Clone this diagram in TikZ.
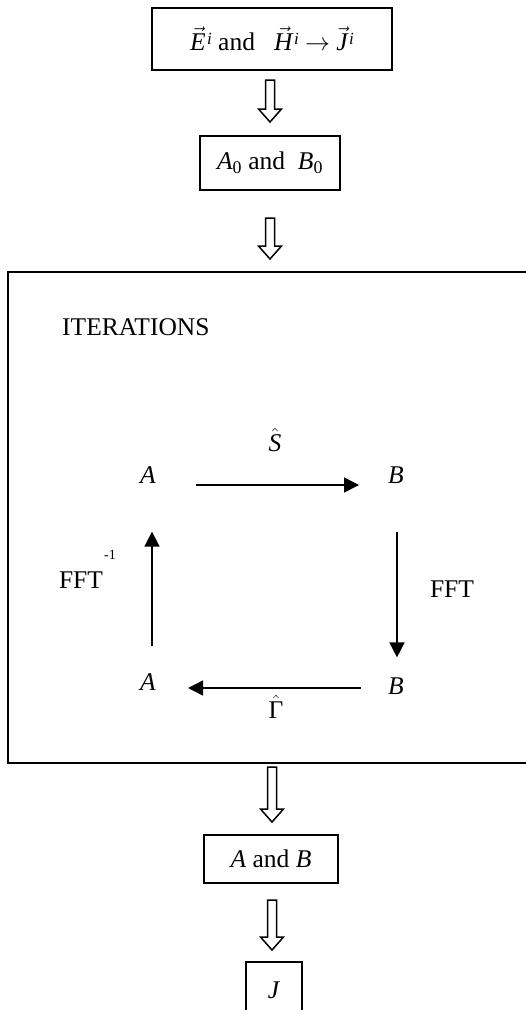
\documentclass[tikz,border=0pt]{standalone}
\usepackage{amsmath}
\usepackage{fontspec}
\setmainfont{Liberation Serif}
\usetikzlibrary{arrows.meta,calc}
\newcommand{\blockarrow}[2]{%
  \draw[hollow] ($(#1)+(-4.5,0)$) -- ($(#1)+(4.5,0)$) -- ($(#2)+(4.5,-13)$) -- ($(#2)+(11.5,-13)$) -- (#2) -- ($(#2)+(-11.5,-13)$) -- ($(#2)+(-4.5,-13)$) -- cycle;}
\newcommand{\vsup}[1]{$\vec{\textit{#1}}$\kern1.5pt\raisebox{0.24em}{\fontsize{17}{17}\selectfont\textit{i}}}
\begin{document}
\begin{tikzpicture}[x=1pt,y=-1pt,
  box/.style={draw,line width=1.6pt,inner sep=0pt},
  lbl/.style={font=\fontsize{25.5}{30}\selectfont,inner sep=0pt},
  small/.style={font=\fontsize{14}{16}\selectfont,inner sep=0pt},
  flow/.style={line width=1.5pt,-{Triangle[length=15pt,width=15pt]}},
  hollow/.style={draw,line width=1.5pt,line join=miter}]
\useasboundingbox (0,0) rectangle (526,1010);
\clip (0,0) rectangle (526,1010);
% boxes
\node[box,lbl,minimum width=240pt,minimum height=62pt] (src) at (272,39)
  {\vsup{E} and\ \ \ \vsup{H}\ $\rightarrow$\ \vsup{J}};
\node[box,lbl,minimum width=140pt,minimum height=54pt] (init) at (270,163)
  {$\textit{A}_{\text{0}}$ and\ \ $\textit{B}_{\text{0}}$};
\node[box,line width=2pt,minimum width=532pt,minimum height=491pt] (iter) at (274,517.5) {};
\node[box,lbl,minimum width=134pt,minimum height=48pt] (res) at (271,859)
  {\textit{A} and \textit{B}};
\node[box,lbl,minimum width=56pt,minimum height=56pt] (out) at (274,990)
  {\textit{J}};
% block arrows
\coordinate (t1) at (270,80);  \coordinate (h1) at (270,122);
\coordinate (t2) at (270,218); \coordinate (h2) at (270,259);
\coordinate (t3) at (272,767); \coordinate (h3) at (272,822);
\coordinate (t4) at (272,900); \coordinate (h4) at (272,950);
\blockarrow{t1}{h1}
\blockarrow{t2}{h2}
\blockarrow{t3}{h3}
\blockarrow{t4}{h4}
% iteration loop
\node[lbl,anchor=west] (title) at (62,327) {ITERATIONS};
\node[lbl] (a1) at (148,475) {\textit{A}};
\node[lbl] (b1) at (396,475) {\textit{B}};
\node[lbl] (a2) at (148,682) {\textit{A}};
\node[lbl] (b2) at (396,686) {\textit{B}};
\draw[flow,shorten <=40pt,shorten >=29pt] ([yshift=-10pt]a1.east) -- ([yshift=-10pt]a1.east -| b1.west);
\draw[flow,shorten <=48pt,shorten >=20pt] ([xshift=1pt]b1.south) -- ([xshift=1pt]b1.south |- b2.north);
\draw[flow,shorten <=27pt,shorten >=32pt] ([yshift=-2pt]b2.west) -- ([yshift=-2pt]b2.west -| a2.east);
\draw[flow,shorten <=27pt,shorten >=48pt] ([xshift=4pt]a2.north) -- ([xshift=4pt]a2.north |- a1.south);
\node[lbl] (s) at (275,440) {$\hat{\textit{S}}$};
\node[lbl] (g) at (276,707) {$\hat{\mbox{Γ}}$};
\node[lbl] (fft) at (452,589) {FFT};
\node[lbl] (ffti) at (81,580) {FFT};
\node[small,anchor=west] (inv) at (104,555) {-1};
\end{tikzpicture}
\end{document}
